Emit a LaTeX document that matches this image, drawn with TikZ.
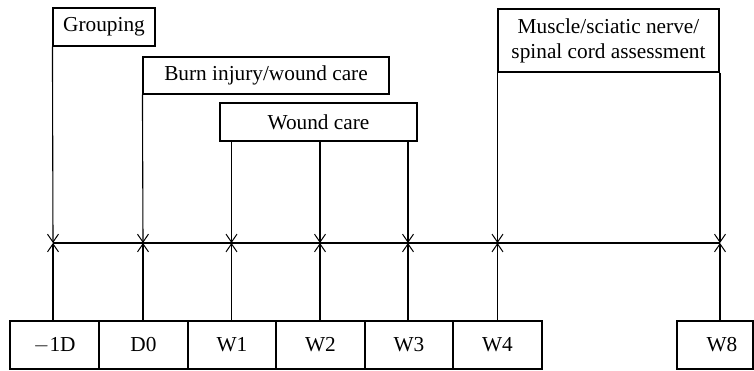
\documentclass[tikz,border=0pt]{standalone}
\usepackage{fontspec}
\setmainfont{Liberation Serif}
\usetikzlibrary{arrows.meta}
\begin{document}
\begin{tikzpicture}[x=1pt,y=-1pt,
  box/.style={draw, line width=1.1pt, rectangle, inner sep=0pt, align=center,
    font=\fontsize{21.3}{25}\selectfont},
  conn/.style={line width=1.1pt, -{Straight Barb[length=8pt,width=11pt,line width=1pt]}},
  plain/.style={line width=1.1pt}]
\useasboundingbox (0,0) rectangle (754,371);
% top boxes
\node[box, minimum width=102pt, minimum height=38pt] (grp) at (104,27) {Grouping};
\node[box, minimum width=246pt, minimum height=37pt] (burn) at (266,75.5) {Burn injury/wound care};
\node[box, minimum width=197pt, minimum height=38pt] (wc) at (318.5,122) {Wound care};
\node[box, minimum width=221pt, minimum height=63pt] (mus) at (608.5,40.5) {Muscle/sciatic nerve/\\spinal cord assessment};
% bottom boxes
\node[box, minimum width=89pt, minimum height=48pt] (m1) at (54.5,345) {$-$1D};
\node[box, minimum width=89pt, minimum height=48pt] (d0) at (143.5,345) {D0};
\node[box, minimum width=88pt, minimum height=48pt] (w1) at (232,345) {W1};
\node[box, minimum width=89pt, minimum height=48pt] (w2) at (320.5,345) {W2};
\node[box, minimum width=88pt, minimum height=48pt] (w3) at (409,345) {W3};
\node[box, minimum width=89pt, minimum height=48pt] (w4) at (497.5,345) {W4};
\node[box, minimum width=76pt, minimum height=48pt] (w8) at (715,345) {\hspace{14pt}W8};
% timeline points
\coordinate (t1) at (53,243);
\coordinate (t2) at (143,243);
\coordinate (t3) at (231.5,243);
\coordinate (t4) at (320,243);
\coordinate (t5) at (408,243);
\coordinate (t6) at (497.5,243);
\coordinate (t7) at (720,243);
\draw[plain] (t1) -- (t7);
% from top
\draw[conn] (grp.south west) -- (t1);
\draw[conn] (burn.south west) -- (t2);
\draw[conn] (wc.south -| t3) -- (t3);
\draw[conn] (wc.south -| t4) -- (t4);
\draw[conn] (wc.south -| t5) -- (t5);
\draw[conn] (mus.south -| t6) -- (t6);
\draw[conn] (mus.south -| t7) -- (t7);
% from bottom
\draw[conn] (m1.north -| t1) -- (t1);
\draw[conn] (d0.north -| t2) -- (t2);
\draw[conn] (w1.north -| t3) -- (t3);
\draw[conn] (w2.north -| t4) -- (t4);
\draw[conn] (w3.north -| t5) -- (t5);
\draw[conn] (w4.north -| t6) -- (t6);
\draw[conn] (w8.north -| t7) -- (t7);
\end{tikzpicture}
\end{document}
